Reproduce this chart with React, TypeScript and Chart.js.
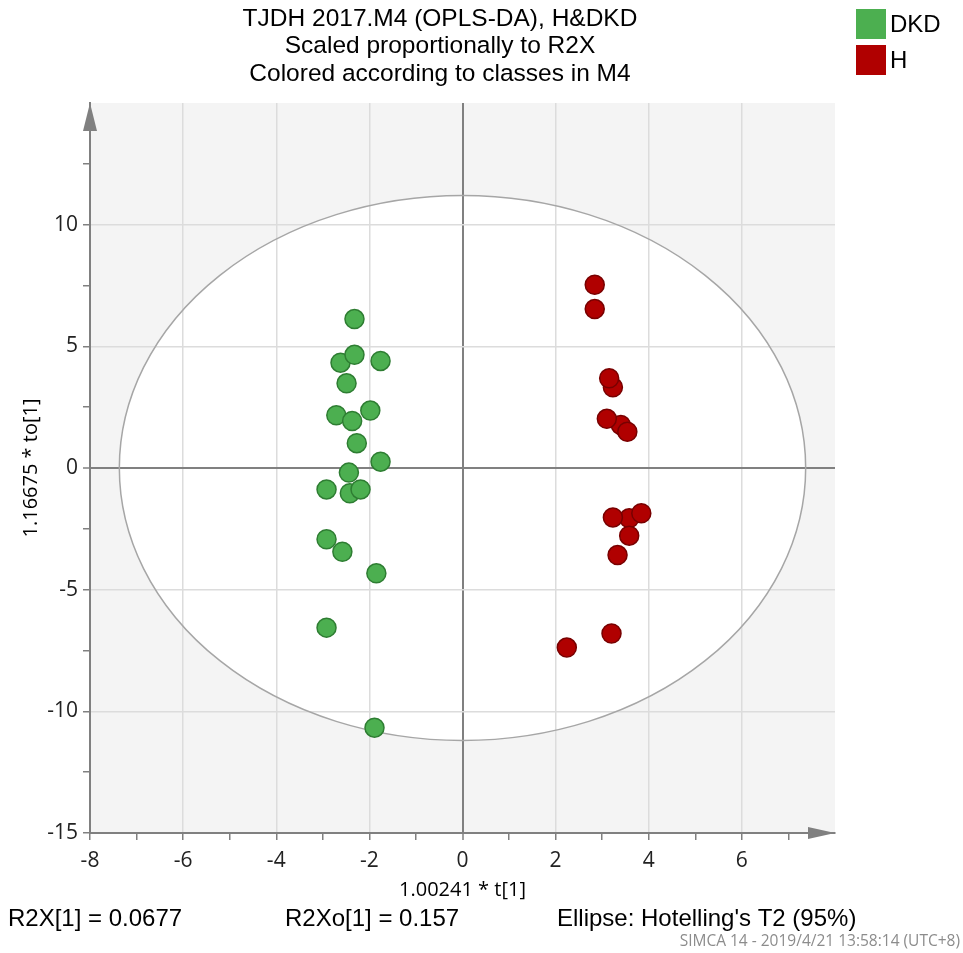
import React, { useEffect, useRef } from "react";
import { Chart, registerables } from "chart.js";

Chart.register(...registerables);

// DKD class scores (t[1], to[1])
const dkdT = [-2.32, -2.62, -2.32, -1.76, -2.49, -2.71, -2.37, -1.98, -2.27, -1.76, -2.42, -2.44, -2.19, -2.92, -2.92, -2.58, -1.85, -2.92, -1.89];
const dkdTo = [6.12, 4.33, 4.65, 4.4, 3.48, 2.17, 1.93, 2.36, 1.02, 0.26, -1.04, -0.19, -0.88, -0.88, -2.93, -3.44, -4.33, -6.56, -10.67];

// H class scores
const hT = [2.84, 2.84, 3.23, 3.15, 3.4, 3.1, 3.54, 3.58, 3.84, 3.23, 3.58, 3.33, 3.2, 2.24];
const hTo = [7.53, 6.53, 3.32, 3.69, 1.77, 2.02, 1.49, -2.07, -1.86, -2.03, -2.78, -3.58, -6.8, -7.38];

const xTickLabels = [-8, -6, -4, -2, 0, 2, 4, 6];
const yTickLabels = [-15, -10, -5, 0, 5, 10];

const titleLines = [
  "TJDH 2017.M4 (OPLS-DA), H&DKD",
  "Scaled proportionally to R2X",
  "Colored according to classes in M4",
];
const legendLabels = ["DKD", "H"];
const xAxisTitle = "1.00241 * t[1]";
const yAxisTitle = "1.16675 * to[1]";
const footLeft = "R2X[1] = 0.0677";
const footMid = "R2Xo[1] = 0.157";
const footRight = "Ellipse: Hotelling's T2 (95%)";
const stamp = "SIMCA 14 - 2019/4/21 13:58:14 (UTC+8)";

// Hotelling T2 ellipse semi-axes (in axis units)
const ellipseRadiusX = 7.37;
const ellipseRadiusY = 11.2;

const X_MIN = -8;
const X_MAX = 8;
const Y_MIN = -15;
const Y_MAX = 15;

const GREEN = "#4caf50";
const GREEN_EDGE = "#2e7d32";
const RED = "#b00000";
const RED_EDGE = "#780000";
const AXIS = "#808080";
const GRID = "#dcdcdc";
const CLEAR = "rgba(0,0,0,0)";

const decor = {
  id: "decor",
  beforeDraw(chart: any) {
    const { ctx, chartArea: a, scales } = chart;
    ctx.save();
    ctx.fillStyle = "#ffffff";
    ctx.fillRect(0, 0, chart.width, chart.height);
    ctx.fillStyle = "#f4f4f4";
    ctx.fillRect(a.left, a.top, a.right - a.left, a.bottom - a.top);
    const cx = scales.x.getPixelForValue(0);
    const cy = scales.y.getPixelForValue(0);
    const rx = scales.x.getPixelForValue(ellipseRadiusX) - cx;
    const ry = cy - scales.y.getPixelForValue(ellipseRadiusY);
    ctx.beginPath();
    ctx.ellipse(cx, cy, rx, ry, 0, 0, Math.PI * 2);
    ctx.fillStyle = "#ffffff";
    ctx.fill();
    ctx.restore();
  },
  beforeDatasetsDraw(chart: any) {
    const { ctx, scales } = chart;
    const cx = scales.x.getPixelForValue(0);
    const cy = scales.y.getPixelForValue(0);
    const rx = scales.x.getPixelForValue(ellipseRadiusX) - cx;
    const ry = cy - scales.y.getPixelForValue(ellipseRadiusY);
    ctx.save();
    ctx.beginPath();
    ctx.ellipse(cx, cy, rx, ry, 0, 0, Math.PI * 2);
    ctx.strokeStyle = "#a6a6a6";
    ctx.lineWidth = 1.5;
    ctx.stroke();
    // axis arrows
    const a = chart.chartArea;
    ctx.fillStyle = AXIS;
    ctx.beginPath();
    ctx.moveTo(a.left, a.top);
    ctx.lineTo(a.left - 7, a.top + 28);
    ctx.lineTo(a.left + 7, a.top + 28);
    ctx.closePath();
    ctx.fill();
    ctx.beginPath();
    ctx.moveTo(a.right, a.bottom);
    ctx.lineTo(a.right - 27, a.bottom - 6);
    ctx.lineTo(a.right - 27, a.bottom + 6);
    ctx.closePath();
    ctx.fill();
    ctx.restore();
  },
  afterDraw(chart: any) {
    const { ctx } = chart;
    ctx.save();
    ctx.fillStyle = "#000000";
    ctx.textAlign = "center";
    ctx.textBaseline = "middle";
    ctx.font = "24.5px 'Liberation Sans', Arial, sans-serif";
    titleLines.forEach((t, i) => ctx.fillText(t, 440, 19 + i * 27.5));
    // legend
    const colors = [GREEN, RED];
    ctx.font = "24px 'Liberation Sans', Arial, sans-serif";
    ctx.textAlign = "left";
    legendLabels.forEach((l, i) => {
      ctx.fillStyle = colors[i];
      ctx.fillRect(856, 9 + i * 36, 30, 30);
      ctx.fillStyle = "#000000";
      ctx.fillText(l, 890, 25 + i * 36);
    });
    // axis titles
    ctx.font = "20px 'Open Sans', sans-serif";
    ctx.textAlign = "center";
    ctx.fillText(xAxisTitle, (chart.chartArea.left + chart.chartArea.right) / 2, 890);
    ctx.save();
    ctx.translate(31, (chart.chartArea.top + chart.chartArea.bottom) / 2);
    ctx.rotate(-Math.PI / 2);
    ctx.fillText(yAxisTitle, 0, 0);
    ctx.restore();
    // footer
    ctx.font = "24px 'Liberation Sans', Arial, sans-serif";
    ctx.textAlign = "left";
    ctx.fillText(footLeft, 8, 919);
    ctx.fillText(footMid, 285, 919);
    ctx.fillText(footRight, 557, 919);
    ctx.font = "15.5px 'Open Sans', sans-serif";
    ctx.fillStyle = "#8c8c8c";
    ctx.textAlign = "right";
    ctx.fillText(stamp, 960, 942);
    ctx.restore();
  },
};

export default function App() {
  const ref = useRef<HTMLCanvasElement>(null);
  useEffect(() => {
    document.body.style.margin = "0";
    const canvas = ref.current!;
    const chart = new Chart(canvas, {
      type: "scatter",
      data: {
        datasets: [
          {
            label: legendLabels[0],
            data: dkdT.map((x, i) => ({ x, y: dkdTo[i] })),
            backgroundColor: GREEN,
            borderColor: GREEN_EDGE,
            borderWidth: 1.5,
            pointRadius: 9.5,
            pointHoverRadius: 9.5,
          },
          {
            label: legendLabels[1],
            data: hT.map((x, i) => ({ x, y: hTo[i] })),
            backgroundColor: RED,
            borderColor: RED_EDGE,
            borderWidth: 1.5,
            pointRadius: 9.5,
            pointHoverRadius: 9.5,
          },
        ],
      },
      options: {
        responsive: false,
        animation: false,
        devicePixelRatio: 1,
        events: [],
        layout: { padding: { top: 103, right: 128, left: 0, bottom: 0 } },
        plugins: {
          legend: { display: false },
          title: { display: false },
          tooltip: { enabled: false },
        },
        scales: {
          x: {
            type: "linear",
            min: X_MIN,
            max: X_MAX,
            afterFit: (s: any) => {
              s.height = 120;
            },
            ticks: {
              stepSize: 1,
              autoSkip: false,
              maxRotation: 0,
              padding: 8,
              color: "#222222",
              font: { family: "'Open Sans', sans-serif", size: 21 },
              callback: (v: any) => (xTickLabels.includes(Number(v)) ? String(v) : ""),
            },
            grid: {
              color: (c: any) => {
                const v = c.tick ? c.tick.value : NaN;
                if (v === 0) return AXIS;
                if (xTickLabels.includes(v) && v !== X_MIN) return GRID;
                return CLEAR;
              },
              lineWidth: (c: any) => (c.tick && c.tick.value === 0 ? 2 : 1.5),
              tickColor: (c: any) => (c.tick && c.tick.value === X_MAX ? CLEAR : AXIS),
              tickLength: 7,
              tickWidth: 1.5,
            },
            border: { display: true, color: AXIS, width: 2 },
          },
          y: {
            type: "linear",
            min: Y_MIN,
            max: Y_MAX,
            afterFit: (s: any) => {
              s.width = 90;
            },
            ticks: {
              stepSize: 2.5,
              autoSkip: false,
              padding: 5,
              color: "#222222",
              font: { family: "'Open Sans', sans-serif", size: 21 },
              callback: (v: any) => (yTickLabels.includes(Number(v)) ? String(v) : ""),
            },
            grid: {
              color: (c: any) => {
                const v = c.tick ? c.tick.value : NaN;
                if (v === 0) return AXIS;
                if (yTickLabels.includes(v) && v !== Y_MIN) return GRID;
                return CLEAR;
              },
              lineWidth: (c: any) => (c.tick && c.tick.value === 0 ? 2 : 1.5),
              tickColor: (c: any) => (c.tick && c.tick.value === Y_MAX ? CLEAR : AXIS),
              tickLength: 7,
              tickWidth: 1.5,
            },
            border: { display: true, color: AXIS, width: 2 },
          },
        },
      },
      plugins: [decor],
    });
    return () => chart.destroy();
  }, []);
  return <canvas ref={ref} width={963} height={953} style={{ display: "block" }} />;
}
